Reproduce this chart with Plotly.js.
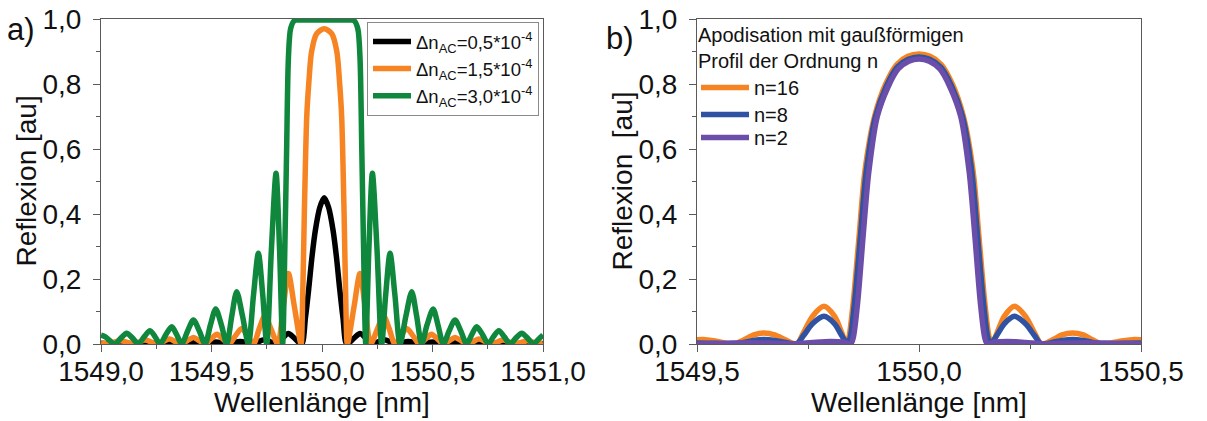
<!DOCTYPE html>
<html><head><meta charset="utf-8">
<script src="https://cdn.plot.ly/plotly-3.0.1.min.js"></script>
<style>html,body{margin:0;padding:0;background:#fff}#chart{width:1207px;height:421px}</style>
</head><body><div id="chart"></div>
<script>
// ---------- Panel a) uniform grating, different index modulation ----------
const wlBlack = [1549.000,1549.050,1549.100,1549.150,1549.210,1549.260,1549.320,1549.370,1549.420,1549.470,1549.520,1549.575,1549.630,1549.685,1549.740,1549.795,1549.822,1549.848,1549.875,1549.908,1549.925,1549.940,1549.955,1549.970,1549.990,1550.010,1550.030,1550.050,1550.065,1550.080,1550.095,1550.112,1550.145,1550.172,1550.198,1550.225,1550.280,1550.335,1550.390,1550.445,1550.500,1550.550,1550.600,1550.650,1550.700,1550.760,1550.810,1550.870,1550.920,1550.970,1551.000];
const rBlack  = [0.002,0.000,0.003,0.000,0.003,0.000,0.004,0.000,0.005,0.000,0.006,0.000,0.008,0.000,0.013,0.000,0.018,0.032,0.018,0.000,0.080,0.170,0.270,0.350,0.420,0.450,0.420,0.350,0.270,0.170,0.080,0.000,0.018,0.032,0.018,0.000,0.013,0.000,0.008,0.000,0.006,0.000,0.005,0.000,0.004,0.000,0.003,0.000,0.003,0.000,0.002];

const wlOrange = [1549.000,1549.035,1549.060,1549.090,1549.118,1549.145,1549.172,1549.200,1549.228,1549.255,1549.282,1549.310,1549.335,1549.360,1549.390,1549.418,1549.445,1549.470,1549.497,1549.525,1549.552,1549.580,1549.608,1549.637,1549.663,1549.690,1549.715,1549.742,1549.770,1549.800,1549.825,1549.848,1549.875,1549.905,1549.911,1549.920,1549.931,1549.940,1549.953,1549.976,1550.010,1550.044,1550.067,1550.080,1550.089,1550.100,1550.109,1550.115,1550.145,1550.172,1550.195,1550.220,1550.250,1550.278,1550.305,1550.330,1550.357,1550.383,1550.412,1550.440,1550.468,1550.495,1550.523,1550.550,1550.575,1550.602,1550.630,1550.660,1550.685,1550.710,1550.738,1550.765,1550.792,1550.820,1550.848,1550.875,1550.902,1550.930,1550.958,1550.985,1551.000];
const rOrange  = [0.004,0.000,0.006,0.010,0.005,0.000,0.006,0.012,0.006,0.000,0.008,0.015,0.008,0.000,0.010,0.020,0.010,0.000,0.015,0.030,0.015,0.000,0.025,0.048,0.025,0.000,0.045,0.087,0.045,0.000,0.115,0.217,0.115,0.000,0.090,0.400,0.700,0.800,0.900,0.955,0.970,0.955,0.900,0.800,0.700,0.400,0.090,0.000,0.115,0.217,0.115,0.000,0.045,0.087,0.045,0.000,0.025,0.048,0.025,0.000,0.015,0.030,0.015,0.000,0.010,0.020,0.010,0.000,0.008,0.015,0.008,0.000,0.006,0.012,0.006,0.000,0.005,0.010,0.005,0.000,0.004];

const wlGreen = [1549.000,1549.020,1549.040,1549.063,1549.090,1549.116,1549.143,1549.169,1549.195,1549.222,1549.245,1549.267,1549.293,1549.320,1549.343,1549.365,1549.392,1549.418,1549.445,1549.471,1549.495,1549.519,1549.545,1549.569,1549.592,1549.614,1549.640,1549.667,1549.690,1549.712,1549.732,1549.750,1549.771,1549.792,1549.808,1549.822,1549.832,1549.840,1549.848,1549.858,1549.875,1549.900,1549.950,1550.010,1550.070,1550.120,1550.145,1550.162,1550.172,1550.180,1550.188,1550.198,1550.212,1550.228,1550.249,1550.270,1550.288,1550.308,1550.330,1550.353,1550.380,1550.406,1550.428,1550.451,1550.475,1550.503,1550.525,1550.549,1550.575,1550.602,1550.628,1550.655,1550.677,1550.700,1550.727,1550.753,1550.775,1550.800,1550.825,1550.851,1550.877,1550.904,1550.930,1550.957,1550.980,1551.000];
const rGreen  = [0.027,0.022,0.010,0.000,0.018,0.033,0.018,0.000,0.022,0.041,0.022,0.000,0.028,0.053,0.028,0.000,0.040,0.074,0.040,0.000,0.058,0.108,0.058,0.000,0.087,0.161,0.087,0.000,0.150,0.279,0.150,0.000,0.290,0.525,0.290,0.000,0.300,0.600,0.880,0.970,0.995,0.997,0.997,0.997,0.997,0.997,0.995,0.970,0.880,0.600,0.300,0.000,0.290,0.525,0.290,0.000,0.150,0.279,0.150,0.000,0.087,0.161,0.087,0.000,0.058,0.108,0.058,0.000,0.040,0.074,0.040,0.000,0.028,0.053,0.028,0.000,0.022,0.041,0.022,0.000,0.018,0.033,0.018,0.000,0.015,0.028];

// ---------- Panel b) gaussian apodisation of order n ----------
const wlN16 = [1549.500,1549.515,1549.545,1549.583,1549.605,1549.628,1549.650,1549.675,1549.700,1549.724,1549.740,1549.760,1549.786,1549.810,1549.826,1549.836,1549.842,1549.852,1549.865,1549.878,1549.900,1549.925,1549.950,1549.975,1550.000,1550.025,1550.050,1550.075,1550.100,1550.122,1550.135,1550.148,1550.158,1550.164,1550.176,1550.192,1550.215,1550.240,1550.260,1550.276,1550.300,1550.322,1550.346,1550.370,1550.392,1550.412,1550.450,1550.485,1550.500];
const rN16  = [0.013,0.014,0.008,0.000,0.012,0.028,0.034,0.028,0.012,0.000,0.035,0.085,0.116,0.085,0.035,0.000,0.020,0.130,0.330,0.530,0.700,0.800,0.860,0.885,0.892,0.885,0.860,0.800,0.700,0.530,0.330,0.130,0.020,0.000,0.035,0.085,0.116,0.085,0.035,0.000,0.012,0.028,0.034,0.028,0.012,0.000,0.008,0.014,0.013];

const wlN8 = [1549.500,1549.540,1549.583,1549.605,1549.628,1549.650,1549.675,1549.700,1549.724,1549.740,1549.760,1549.786,1549.810,1549.826,1549.839,1549.845,1549.855,1549.868,1549.881,1549.902,1549.927,1549.951,1549.976,1550.000,1550.024,1550.049,1550.073,1550.098,1550.119,1550.132,1550.145,1550.155,1550.161,1550.175,1550.192,1550.215,1550.240,1550.260,1550.276,1550.300,1550.322,1550.346,1550.370,1550.392,1550.412,1550.460,1550.500];
const rN8  = [0.003,0.002,0.000,0.005,0.011,0.014,0.011,0.005,0.000,0.026,0.062,0.085,0.062,0.026,0.000,0.020,0.130,0.330,0.530,0.700,0.795,0.852,0.876,0.883,0.876,0.852,0.795,0.700,0.530,0.330,0.130,0.020,0.000,0.026,0.062,0.085,0.062,0.026,0.000,0.005,0.011,0.014,0.011,0.005,0.000,0.002,0.003];

const wlN2 = [1549.500,1549.560,1549.620,1549.680,1549.720,1549.760,1549.800,1549.830,1549.846,1549.852,1549.862,1549.874,1549.887,1549.906,1549.930,1549.953,1549.977,1550.000,1550.023,1550.047,1550.070,1550.094,1550.113,1550.126,1550.138,1550.148,1550.154,1550.170,1550.200,1550.240,1550.280,1550.320,1550.380,1550.440,1550.500];
const rN2  = [0.000,0.002,0.004,0.002,0.001,0.005,0.008,0.006,0.000,0.020,0.130,0.330,0.530,0.700,0.790,0.846,0.870,0.877,0.870,0.846,0.790,0.700,0.530,0.330,0.130,0.020,0.000,0.006,0.008,0.005,0.001,0.002,0.004,0.002,0.000];

// ---------- names, titles and tick labels ----------
const namesA = ['Δn<sub>AC</sub>=0,5*10<sup>-4</sup>','Δn<sub>AC</sub>=1,5*10<sup>-4</sup>','Δn<sub>AC</sub>=3,0*10<sup>-4</sup>'];
const namesB = ['n=16','n=8','n=2'];
const legendTitleB = 'Apodisation mit gaußförmigen<br>Profil der Ordnung n';
const xTitle = 'Wellenlänge [nm]';
const yTitleA = 'Reflexion [au]';
const yTitleB = 'Reflexion\u00a0\u00a0[au]';
const xTickValsA = [1549.0,1549.5,1550.0,1550.5,1551.0];
const xTickTextA = ['1549,0','1549,5','1550,0','1550,5','1551,0'];
const xTickValsB = [1549.5,1550.0,1550.5];
const xTickTextB = ['1549,5','1550,0','1550,5'];
const yTickVals = [0,0.2,0.4,0.6,0.8,1.0];
const yTickText = ['0,0','0,2','0,4','0,6','0,8','1,0'];

const cBlack='#000000', cOrange='#f68422', cGreen='#0f873c', cBlue='#2f52a3', cPurple='#6b4ea9';
const LW = 5.5;

function tr(x,y,name,color,xa,ya,leg){
  return {x:x,y:y,name:name,type:'scatter',mode:'lines',xaxis:xa,yaxis:ya,legend:leg,
    line:{color:color,width:LW,shape:'spline',smoothing:0.8},hoverinfo:'x+y'};
}
const data = [
  tr(wlBlack,rBlack,namesA[0],cBlack,'x','y','legend'),
  tr(wlOrange,rOrange,namesA[1],cOrange,'x','y','legend'),
  tr(wlGreen,rGreen,namesA[2],cGreen,'x','y','legend'),
  tr(wlN16,rN16,namesB[0],cOrange,'x2','y2','legend2'),
  tr(wlN8,rN8,namesB[1],cBlue,'x2','y2','legend3'),
  tr(wlN2,rN2,namesB[2],cPurple,'x2','y2','legend4')
];

const FONT = 'Liberation Sans, Arial, sans-serif';
const TXT = '#111';
const axCol = '#5a5a5a';
const yTop = 1-19/421, yBot = 1-344/421;
const domA = [101/1207, 543/1207], domB = [697/1207, 1141/1207];

function xax(dom, range, tv, tt, anchor){
  return {domain:dom, range:range, anchor:anchor, tickmode:'array', tickvals:tv, ticktext:tt,
    ticks:'outside', ticklen:7, tickwidth:1, tickcolor:axCol, showline:true, linecolor:axCol, linewidth:1,
    mirror:true, showgrid:false, zeroline:false, ticklabelstandoff:-5,
    minor:{dtick:0.25, tick0:1549, ticks:'outside', ticklen:4, tickcolor:axCol, showgrid:false},
    tickfont:{family:FONT,size:28,color:TXT},
    title:{text:xTitle, font:{family:FONT,size:28,color:TXT}, standoff:5}};
}
function yax(anchor){
  return {domain:[yBot,yTop], range:[0,1], anchor:anchor, tickmode:'array', tickvals:yTickVals, ticktext:yTickText,
    ticks:'outside', ticklen:7, tickwidth:1, tickcolor:axCol, showline:true, linecolor:axCol, linewidth:1,
    mirror:true, showgrid:false, zeroline:false, ticklabelstandoff:6,
    minor:{dtick:0.1, tick0:0, ticks:'outside', ticklen:4, tickcolor:axCol, showgrid:false},
    tickfont:{family:FONT,size:28,color:TXT}};
}
function xTop(over, range, tv, anchor){
  return {overlaying:over, side:'top', anchor:anchor, range:range, tickmode:'array', tickvals:tv,
    ticks:'inside', ticklen:5, tickcolor:axCol, showticklabels:false, showline:false, showgrid:false, zeroline:false,
    minor:{dtick:0.25, tick0:1549, ticks:'inside', ticklen:4, tickcolor:axCol, showgrid:false}};
}
function yRight(over, anchor){
  return {overlaying:over, side:'right', anchor:anchor, range:[0,1], tickmode:'array', tickvals:yTickVals,
    ticks:'inside', ticklen:5, tickcolor:axCol, showticklabels:false, showline:false, showgrid:false, zeroline:false,
    minor:{dtick:0.1, tick0:0, ticks:'inside', ticklen:4, tickcolor:axCol, showgrid:false}};
}
function legB(yTopPx, title){
  const l = {x:696/1207, y:1-yTopPx/421, xanchor:'left', yanchor:'top', bgcolor:'rgba(0,0,0,0)', borderwidth:0,
    font:{family:FONT,size:20,color:TXT}, traceorder:'normal', itemwidth:48};
  if (title) l.title = {text:title, side:'top', font:{family:FONT,size:20,color:TXT}};
  return l;
}

const yMid = 1-181.5/421;
const layout = {
  width:1207, height:421, margin:{l:0,r:0,t:0,b:0}, paper_bgcolor:'#fff', plot_bgcolor:'#fff',
  font:{family:FONT,color:TXT}, showlegend:true,
  xaxis: xax(domA,[1549,1551],xTickValsA,xTickTextA,'y'),
  yaxis: yax('x'),
  xaxis2: xax(domB,[1549.5,1550.5],xTickValsB,xTickTextB,'y2'),
  yaxis2: yax('x2'),
  xaxis3: xTop('x',[1549,1551],xTickValsA,'y'),
  xaxis4: xTop('x2',[1549.5,1550.5],xTickValsB,'y2'),
  yaxis3: yRight('y','x'),
  yaxis4: yRight('y2','x2'),
  legend:{x:367/1207, y:1-22/421, xanchor:'left', yanchor:'top', bgcolor:'#fff', bordercolor:'#8a8a8a', borderwidth:1,
    font:{family:FONT,size:18.5,color:TXT}, traceorder:'normal', itemwidth:38},
  legend2: legB(16, legendTitleB),
  legend3: legB(95, null),
  legend4: legB(118, null),
  annotations:[
    {text:'a)', xref:'paper', yref:'paper', x:21/1207, y:1-29/421, xanchor:'center', yanchor:'middle', showarrow:false, font:{family:FONT,size:31,color:TXT}},
    {text:'b)', xref:'paper', yref:'paper', x:620/1207, y:1-39/421, xanchor:'center', yanchor:'middle', showarrow:false, font:{family:FONT,size:31,color:TXT}},
    {text:yTitleA, xref:'paper', yref:'paper', x:26/1207, y:yMid, xanchor:'center', yanchor:'middle', textangle:-90, showarrow:false, font:{family:FONT,size:28,color:TXT}},
    {text:yTitleB, xref:'paper', yref:'paper', x:622/1207, y:yMid, xanchor:'center', yanchor:'middle', textangle:-90, showarrow:false, font:{family:FONT,size:28,color:TXT}}
  ]
};

Plotly.newPlot('chart', data, layout, {displayModeBar:false, staticPlot:true});
</script>
</body></html>
